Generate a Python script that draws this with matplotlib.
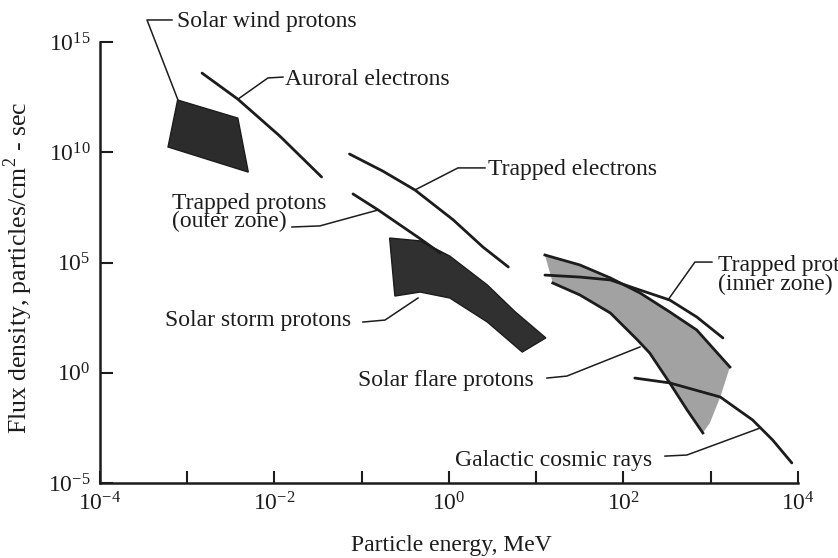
import numpy as np
import matplotlib
matplotlib.use("Agg")
import matplotlib.pyplot as plt

plt.rcParams['font.family'] = ['Liberation Serif', 'DejaVu Serif']
plt.rcParams['mathtext.fontset'] = 'custom'
plt.rcParams['mathtext.rm'] = 'Liberation Serif'

# all values are log10(energy / MeV) and log10(flux / particles cm^-2 s^-1)
wind_logE = [-3.11, -2.42, -2.30, -3.22]
wind_logF = [12.37, 11.55, 9.10, 10.24]

auroral_logE = [-2.83, -2.42, -1.94, -1.46]
auroral_logF = [13.59, 12.41, 10.74, 8.88]

trap_e_logE = [-1.14, -0.76, -0.39, 0.05, 0.39, 0.68]
trap_e_logF = [9.92, 9.15, 8.29, 6.93, 5.70, 4.80]

trap_out_logE = [-1.10, -0.81, -0.36, -0.10]
trap_out_logF = [8.11, 7.38, 6.16, 5.43]

storm_top_logE = [-0.68, -0.33, 0.01, 0.44, 0.76, 1.11]
storm_top_logF = [6.11, 5.98, 5.29, 3.98, 2.76, 1.58]
storm_bot_logE = [0.84, 0.44, 0.01, -0.33, -0.62]
storm_bot_logF = [0.94, 2.30, 3.39, 3.66, 3.48]

flare_top_logE = [1.10, 1.50, 1.85, 2.19, 2.53, 2.84, 3.22]
flare_top_logF = [5.34, 4.89, 4.30, 3.62, 2.76, 1.94, 0.26]
flare_side_logE = [3.11, 2.99]
flare_side_logF = [-1.10, -2.28]
flare_bot_logE = [2.91, 2.73, 2.53, 2.30, 2.16, 1.85, 1.50, 1.19]
flare_bot_logF = [-2.73, -1.69, -0.46, 0.90, 1.49, 2.71, 3.53, 4.07]

trap_in_logE = [1.10, 1.50, 1.85, 2.19, 2.53, 2.84, 3.14]
trap_in_logF = [4.43, 4.34, 4.21, 3.75, 3.30, 2.53, 1.58]

cosmic_logE = [2.13, 2.53, 3.11, 3.48, 3.71, 3.93]
cosmic_logF = [-0.24, -0.46, -1.10, -2.14, -3.05, -4.09]

x_ticks = [-4, -3, -2, -1, 0, 1, 2, 3, 4]
x_labels = ['$\\mathregular{10^{-4}}$', '', '$\\mathregular{10^{-2}}$', '',
            '$\\mathregular{10^{0}}$', '', '$\\mathregular{10^{2}}$', '',
            '$\\mathregular{10^{4}}$']
y_ticks = [-5, 0, 5, 10, 15]
y_labels = ['$\\mathregular{10^{-5}}$', '$\\mathregular{10^{0}}$',
            '$\\mathregular{10^{5}}$', '$\\mathregular{10^{10}}$',
            '$\\mathregular{10^{15}}$']

# label text, anchor (logE, logF), leader polyline
labels = [
    ("Solar wind protons", (-3.12, 15.91), [(-3.175, 16.0), (-3.461, 16.0), (-3.106, 12.37)]),
    ("Auroral electrons", (-1.88, 13.28), [(-1.903, 13.41), (-2.075, 13.37), (-2.418, 12.41)]),
    ("Trapped electrons", (0.45, 9.20), [(0.413, 9.29), (0.103, 9.29), (-0.390, 8.29)]),
    ("Trapped protons\n(outer zone)", (-3.175, 7.27), [(-1.80, 6.61), (-1.48, 6.66), (-0.814, 7.38)]),
    ("Solar storm protons", (-3.255, 2.39), [(-0.986, 2.30), (-0.733, 2.39), (-0.355, 3.39)]),
    ("Solar flare protons", (-1.043, -0.33), [(1.123, -0.24), (1.352, -0.15), (2.189, 1.17)]),
    ("Trapped protons\n(inner zone)", (3.083, 4.44), [(3.014, 5.02), (2.819, 5.02), (2.510, 3.30)]),
    ("Galactic cosmic rays", (0.069, -3.96), [(2.476, -3.78), (2.728, -3.73), (3.564, -2.51)]),
]

P = lambda v: np.power(10.0, np.asarray(v, dtype=float))

ink = '#1c1c1c'
fig = plt.figure(figsize=(8.38, 5.58), dpi=100)
ax = fig.add_axes([0.1193, 0.1344, 0.8329, 0.7903])
ax.set_xscale('log')
ax.set_yscale('log')

# dark blobs
ax.fill(P(wind_logE), P(wind_logF), color='#2c2c2c', lw=1, ec=ink)
ax.fill(P(storm_top_logE + storm_bot_logE), P(storm_top_logF + storm_bot_logF),
        color='#303030', lw=1, ec=ink)

# flare band
ax.fill(P(flare_top_logE + flare_side_logE + flare_bot_logE),
        P(flare_top_logF + flare_side_logF + flare_bot_logF),
        color='#a2a2a2', lw=0)
ax.plot(P(flare_top_logE), P(flare_top_logF), color=ink, lw=2)
ax.plot(P(flare_bot_logE), P(flare_bot_logF), color=ink, lw=2)

for lx, ly in [(auroral_logE, auroral_logF), (trap_e_logE, trap_e_logF),
               (trap_out_logE, trap_out_logF), (trap_in_logE, trap_in_logF),
               (cosmic_logE, cosmic_logF)]:
    ax.plot(P(lx), P(ly), color=ink, lw=2, solid_capstyle='round')

for txt, (tx, ty), leader in labels:
    ax.text(P(tx), P(ty), txt, fontsize=17, ha='left', va='center',
            color=ink, linespacing=0.85, clip_on=False)
    lx, ly = zip(*leader)
    ax.plot(P(lx), P(ly), color=ink, lw=1.1, clip_on=False)

ax.set_xlim(1e-4, 1e4)
ax.set_ylim(1e-5, 1e15)
ax.set_xticks(P(x_ticks))
ax.set_xticklabels(x_labels)
ax.set_yticks(P(y_ticks))
ax.set_yticklabels(y_labels)
ax.minorticks_off()
ax.tick_params(direction='in', length=9, width=1.5, labelsize=17, pad=7, colors=ink)

for s in ['top', 'right']:
    ax.spines[s].set_visible(False)
for s in ['left', 'bottom']:
    ax.spines[s].set_linewidth(1.8)
    ax.spines[s].set_color(ink)

fig.text(451 / 838, 1 - 545 / 558, "Particle energy, MeV", fontsize=17,
         ha='center', va='center', color=ink)
fig.text(18 / 838, 1 - 268 / 558, "Flux density, particles/cm$^2$ - sec",
         fontsize=18.5, ha='center', va='center', rotation=90, color=ink)

fig.savefig('out.png', dpi=100)
